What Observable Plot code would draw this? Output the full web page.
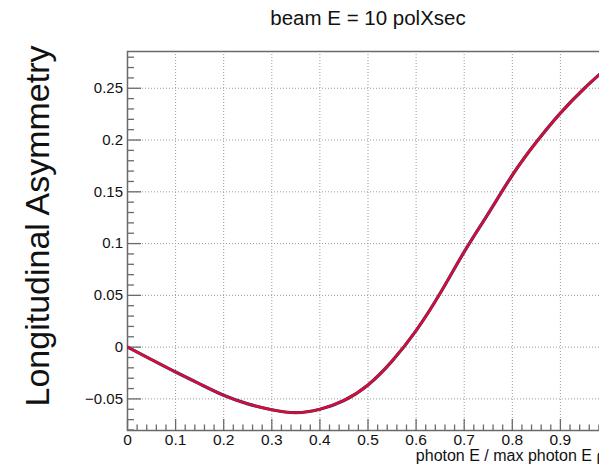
<!DOCTYPE html>
<html>
<head>
<meta charset="utf-8">
<script src="https://cdn.jsdelivr.net/npm/d3@7"></script>
<script src="https://cdn.jsdelivr.net/npm/@observablehq/plot@0.6"></script>
<style>
  html, body { margin: 0; padding: 0; overflow: hidden; background: #fff; }
  #chart { width: 599px; height: 466px; overflow: hidden; }
</style>
</head>
<body>
<div id="chart"></div>
<script>
// Photon energy fraction (E / E_max) and the longitudinal asymmetry at each value
const photonE = [0, 0.05, 0.1, 0.15, 0.2, 0.25, 0.3, 0.35, 0.4, 0.45, 0.5,
                 0.55, 0.6, 0.65, 0.7, 0.75, 0.8, 0.85, 0.9, 0.95, 1.0];
const asymmetry = [0, -0.012, -0.024, -0.0355, -0.0465, -0.0548, -0.0605, -0.0633, -0.0600, -0.0515, -0.0365,
                   -0.0135, 0.016, 0.052, 0.092, 0.129, 0.166, 0.198, 0.226, 0.250, 0.271];

// Axis ticks: labelled majors and unlabelled minors
const xMajor = [0, 0.1, 0.2, 0.3, 0.4, 0.5, 0.6, 0.7, 0.8, 0.9, 1.0];
const xMinor = d3.range(0, 51).map(i => +(i * 0.02).toFixed(2)).filter(v => !xMajor.includes(v));
const yMajor = [-0.05, 0, 0.05, 0.1, 0.15, 0.2, 0.25];
const yMinor = d3.range(-8, 29).map(i => +(i * 0.01).toFixed(2)).filter(v => !yMajor.some(m => Math.abs(m - v) < 1e-9));

const titleText = "beam E = 10 polXsec";
const xTitle = "photon E / max photon E ρ";
const yTitle = "Longitudinal Asymmetry";

const points = photonE.map((x, i) => ({x, y: asymmetry[i]}));

const W = 620, H = 466;
const mL = 127, mR = 12, mT = 51, mB = 36;
const frameW = W - mL - mR, frameH = H - mT - mB;

const font = "'Liberation Sans', Arial, Helvetica, sans-serif";
const axisColor = "#6a6a6a";

const fmt = d => d === 0 ? "0" : d3.format("")(+d.toFixed(2)).replace("-", "\u2212");

const chart = Plot.plot({
  width: W,
  height: H,
  marginLeft: mL,
  marginRight: mR,
  marginTop: mT,
  marginBottom: mB,
  style: {maxWidth: "none", fontFamily: font, background: "#fff", color: "#111"},
  x: {domain: [0, 1], label: null},
  y: {domain: [-0.0805, 0.2855], label: null},
  marks: [
    // dotted grid at the major ticks
    Plot.gridX(xMajor, {stroke: "#9a9a9a", strokeOpacity: 1, strokeDasharray: "1,2", strokeWidth: 1}),
    Plot.gridY(yMajor, {stroke: "#9a9a9a", strokeOpacity: 1, strokeDasharray: "1,2", strokeWidth: 1}),
    // inward ticks on the bottom and left axes
    Plot.tickX(xMajor, {x: d => d, stroke: axisColor, strokeWidth: 1.3, insetTop: frameH - 11}),
    Plot.tickX(xMinor, {x: d => d, stroke: axisColor, strokeWidth: 1.3, insetTop: frameH - 5.5}),
    Plot.tickY(yMajor, {y: d => d, stroke: axisColor, strokeWidth: 1.3, insetRight: frameW - 14}),
    Plot.tickY(yMinor, {y: d => d, stroke: axisColor, strokeWidth: 1.3, insetRight: frameW - 7}),
    Plot.frame({stroke: axisColor, strokeWidth: 1.5}),
    // tick labels
    Plot.axisX(xMajor.filter(v => v < 1), {tickSize: 0, tickPadding: 3, fontSize: 15.5, tickFormat: fmt, label: null}),
    Plot.axisY(yMajor, {tickSize: 0, tickPadding: 4.5, fontSize: 15, tickFormat: fmt, label: null}),
    // asymmetry curve: dark underlay with the red curve on top
    Plot.line(points, {x: "x", y: "y", stroke: "#2e2a96", strokeWidth: 3.2, curve: "natural", clip: true}),
    Plot.line(points, {x: "x", y: "y", stroke: "#d4102a", strokeWidth: 2.5, curve: "natural", clip: true}),
    // titles
    Plot.text([titleText], {frameAnchor: "top", dy: -27, lineAnchor: "bottom", fontSize: 20.5, fill: "#111"}),
    Plot.text([xTitle], {frameAnchor: "bottom-right", textAnchor: "end", dx: -3, dy: 30.5, lineAnchor: "bottom", fontSize: 16, fill: "#111"}),
    Plot.text([yTitle], {frameAnchor: "left", textAnchor: "middle", rotate: -90, dx: 48 - mL, dy: -15, lineAnchor: "bottom", fontSize: 34, fill: "#111"})
  ]
});

document.getElementById("chart").appendChild(chart);
</script>
</body>
</html>
